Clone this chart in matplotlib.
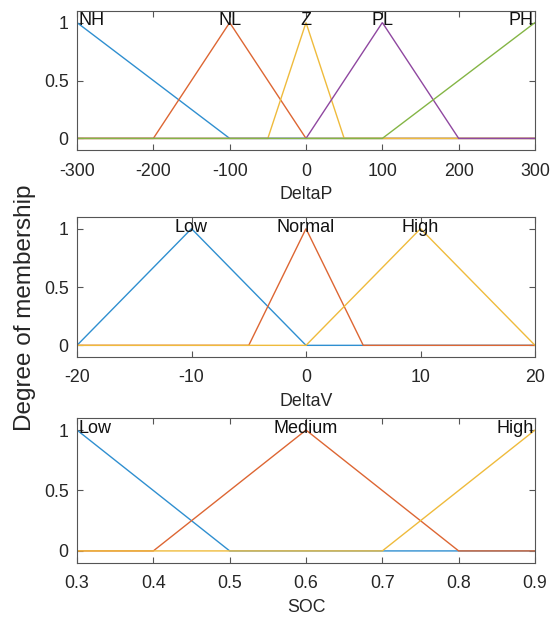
import matplotlib
matplotlib.use("Agg")
import matplotlib.pyplot as plt
import numpy as np

plt.rcParams['font.family'] = ['Liberation Sans', 'DejaVu Sans']

# ---- data ----
deltaP_range = [-300, 300]
deltaP_names = ["NH", "NL", "Z", "PL", "PH"]
deltaP_params = [[-300, -300, -100], [-200, -100, 0], [-50, 0, 50], [0, 100, 200], [100, 300, 300]]
deltaP_ticks = [-300, -200, -100, 0, 100, 200, 300]

deltaV_range = [-20, 20]
deltaV_names = ["Low", "Normal", "High"]
deltaV_params = [[-20, -10, 0], [-5, 0, 5], [0, 10, 20]]
deltaV_ticks = [-20, -10, 0, 10, 20]

soc_range = [0.3, 0.9]
soc_names = ["Low", "Medium", "High"]
soc_params = [[0.3, 0.3, 0.5], [0.4, 0.6, 0.8], [0.7, 0.9, 0.9]]
soc_ticks = [0.3, 0.4, 0.5, 0.6, 0.7, 0.8, 0.9]
soc_ticklabels = ["0.3", "0.4", "0.5", "0.6", "0.7", "0.8", "0.9"]

colors = ["#2f8fd0", "#dd6633", "#efbb3c", "#8f47a0", "#84b545"]


def trimf(x, a, b, c):
    x = np.asarray(x, dtype=float)
    y = np.zeros_like(x)
    if b > a:
        m = (x >= a) & (x < b)
        y[m] = (x[m] - a) / (b - a)
    if c > b:
        m = (x > b) & (x <= c)
        y[m] = (c - x[m]) / (c - b)
    y[x == b] = 1.0
    return y


W, H = 559, 617
fig = plt.figure(figsize=(W / 100, H / 100), dpi=100)

def axbox(left, top, right, bottom):
    return [left / W, (H - bottom) / H, (right - left) / W, (bottom - top) / H]

boxes = [axbox(77, 11, 535, 150), axbox(77, 217, 535, 357), axbox(77, 418, 535, 563)]
specs = [
    (deltaP_range, deltaP_names, deltaP_params, deltaP_ticks, [str(t) for t in deltaP_ticks], "DeltaP"),
    (deltaV_range, deltaV_names, deltaV_params, deltaV_ticks, [str(t) for t in deltaV_ticks], "DeltaV"),
    (soc_range, soc_names, soc_params, soc_ticks, soc_ticklabels, "SOC"),
]

edge = "#555555"
tcol = "#262626"
for box, (rng, names, params, ticks, tlabels, xlabel) in zip(boxes, specs):
    ax = fig.add_axes(box)
    n = len(names)
    for i, (name, p) in enumerate(zip(names, params)):
        a, b, c = p
        xs = np.array(sorted(set([rng[0], a, b, c, rng[1]])), dtype=float)
        ys = trimf(xs, a, b, c)
        ax.plot(xs, ys, color=colors[i], lw=1.0, solid_joinstyle='miter')
        if i == 0 and b == rng[0]:
            ax.text(b + (rng[1] - rng[0]) * 0.003, 0.975, name, ha='left', va='baseline',
                    fontsize=13, color='#111111')
        elif i == n - 1 and b == rng[1]:
            ax.text(b - (rng[1] - rng[0]) * 0.003, 0.975, name, ha='right', va='baseline',
                    fontsize=13, color='#111111')
        else:
            ax.text(b, 0.975, name, ha='center', va='baseline', fontsize=13, color='#111111')
    ax.set_xlim(rng)
    ax.set_ylim(-0.1, 1.1)
    ax.set_xticks(ticks)
    ax.set_xticklabels(tlabels)
    ax.set_yticks([0, 0.5, 1])
    ax.set_yticklabels(["0", "0.5", "1"])
    ax.tick_params(direction='in', top=True, right=True, length=4.5, width=0.8,
                   color=edge, labelcolor=tcol, labelsize=12.8)
    ax.tick_params(axis='x', pad=9)
    ax.tick_params(axis='y', pad=6)
    for s in ax.spines.values():
        s.set_color(edge)
        s.set_linewidth(0.8)
    ax.set_xlabel(xlabel, fontsize=12.8, color=tcol, labelpad=5)

fig.text(25 / W, (H - 308) / H, "Degree of membership", rotation=90, ha='center', va='center',
         fontsize=17.5, color=tcol)

fig.savefig("out.png", dpi=100)
